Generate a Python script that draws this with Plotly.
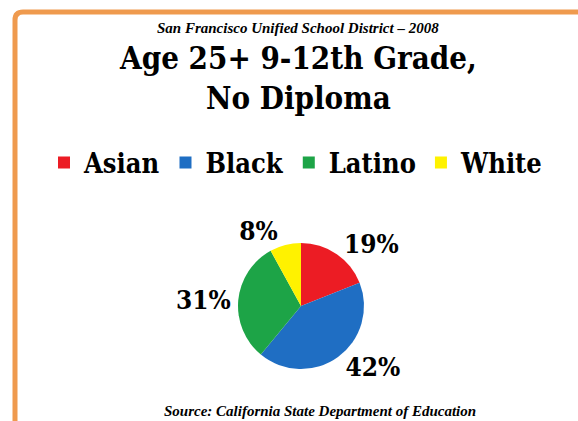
import plotly.graph_objects as go

labels = ["Asian", "Black", "Latino", "White"]
values = [19, 42, 31, 8]
colors = ["#EC1C24", "#1F6EC3", "#1DA447", "#FFF200"]

W, H = 578, 421
serif = "DejaVu Serif Condensed, DejaVu Serif, serif"
times = "Liberation Serif, Times New Roman, serif"

fig = go.Figure()
fig.add_trace(go.Pie(
    labels=labels, values=values, sort=False, direction="clockwise", rotation=0,
    marker=dict(colors=colors, line=dict(width=0)),
    texttemplate="%{percent:.0%}", textposition="outside",
    textfont=dict(family=serif, size=26, color="black", weight="bold"),
    domain=dict(x=[238/W, 364/W], y=[1-369/H, 1-243/H]),
    hoverinfo="label+percent",
))

def px(x):
    return x / W

def py(y):
    return 1 - y / H

fig.update_layout(
    width=W, height=H, margin=dict(l=0, r=0, t=0, b=0),
    paper_bgcolor="white", plot_bgcolor="white",
    showlegend=True,
    legend=dict(orientation="h", x=px(296), xanchor="center", y=py(163), yanchor="middle",
                font=dict(family=serif, size=27, color="black", weight="bold"),
                itemsizing="constant", bgcolor="rgba(0,0,0,0)"),
    shapes=[dict(type="path", xref="paper", yref="paper",
                 path=f"M {px(15)} {py(421)} L {px(15)} {py(20)} Q {px(15)} {py(12)} {px(23)} {py(12)} L {px(578)} {py(12)}",
                 line=dict(color="#EF9A4E", width=5))],
    annotations=[
        dict(text="<b><i>San Francisco Unified School District – 2008</i></b>", x=px(298), y=py(28),
             xref="paper", yref="paper", showarrow=False, yanchor="middle",
             font=dict(family=times, size=15, color="black")),
        dict(text="<b>Age 25+ 9-12th Grade,<br>No Diploma</b>", x=px(298), y=py(78),
             xref="paper", yref="paper", showarrow=False, yanchor="middle",
             font=dict(family=serif, size=31, color="black")),
        dict(text="<b><i>Source: California State Department of Education</i></b>", x=px(320), y=py(411),
             xref="paper", yref="paper", showarrow=False, yanchor="middle",
             font=dict(family=times, size=15, color="black")),
    ],
)

fig.write_html("out.html")
